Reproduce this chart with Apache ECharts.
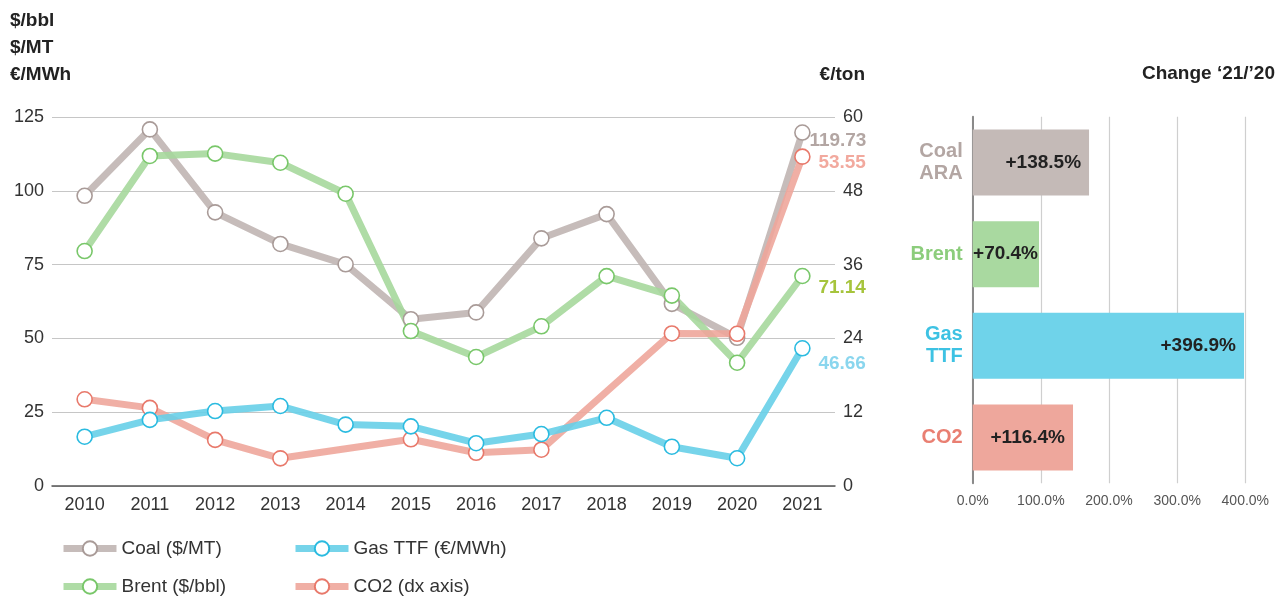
<!DOCTYPE html>
<html><head><meta charset="utf-8">
<script src="https://cdn.jsdelivr.net/npm/echarts@6/dist/echarts.min.js"></script>
<style>html,body{margin:0;padding:0;background:#fff}#c{width:1279px;height:596px}</style>
</head><body><div id="c"></div>
<script>
const years = ['2010','2011','2012','2013','2014','2015','2016','2017','2018','2019','2020','2021'];
const coal = [98.3,120.8,92.7,82.0,75.1,56.5,58.8,83.9,92.1,61.7,50.2,119.73];
const brent = [79.6,111.8,112.6,109.5,99.0,52.5,43.7,54.1,71.1,64.5,41.75,71.14];
const gasTTF = [16.7,22.4,25.4,27.1,20.8,20.2,14.5,17.6,23.1,13.3,9.4,46.66];
const co2 = [14.1,12.7,7.5,4.5,null,7.6,5.4,5.9,null,24.8,24.75,53.55];
const leftTicks = {min:0, max:125, interval:25};
const rightTicks = {min:0, max:60, interval:12};
const barCats = ['Coal ARA','Brent','Gas TTF','CO2'];
const barLengths = [170.7, 97.3, 398.1, 147.2];
const barLabels = ['+138.5%','+70.4%','+396.9%','+116.4%'];

const FONT = '"Liberation Sans", Arial, sans-serif';
const C = {
  coal:{line:'#c0b5b2', mark:'#a99b98', lab:'#b3a6a3'},
  brent:{line:'#a6d89c', mark:'#79c76a', lab:'#a6c43c'},
  gas:{line:'#67cfe8', mark:'#2bbbe0', lab:'#8ad6ee'},
  co2:{line:'#eea69b', mark:'#e8796b', lab:'#f2a99e'}
};
const catColors = ['#b3a6a3','#8ccd7c','#3dc2e3','#e97f72'];
const barColors = ['#c4bab7','#a9d9a0','#6fd3ea','#eea79c'];

function lineSeries(name, data, col, yIdx, off){
  return {
    name, type:'line', data, xAxisIndex:0, yAxisIndex:yIdx,
    connectNulls:true, symbol:'circle', symbolSize:15,
    itemStyle:{color:'#fff', borderColor:col.mark, borderWidth:1.6},
    lineStyle:{color:col.line, width:7, opacity:0.9},
    emphasis:{disabled:true},
    endLabel:{show:true, distance:0, offset:off, formatter:p=>Number(p.value).toFixed(2),
      color:col.lab, fontFamily:FONT, fontWeight:'bold', fontSize:19},
    z:3
  };
}
const legendBase = {orient:'vertical', top:534, height:80, itemWidth:53, itemHeight:18, itemGap:19,
  textStyle:{fontSize:19, color:'#333', fontFamily:FONT, lineHeight:16},
  lineStyle:{width:7, opacity:0.9}, selectedMode:false};

const chart = echarts.init(document.getElementById('c'), null, {renderer:'canvas'});
chart.setOption({
  animation:false,
  textStyle:{fontFamily:FONT},
  graphic:[
    {type:'text', left:10, top:7, style:{text:'$/bbl\n$/MT\n€/MWh', font:'bold 19px '+FONT, fill:'#222', lineHeight:27}},
    {type:'text', right:1279-865, top:65, style:{text:'€/ton', font:'bold 19px '+FONT, fill:'#222', textAlign:'right'}},
    {type:'text', right:4, top:64, style:{text:'Change ‘21/’20', font:'bold 19px '+FONT, fill:'#222', textAlign:'right'}}
  ],
  legend:[
    Object.assign({}, legendBase, {left:55, data:['Coal ($/MT)','Brent ($/bbl)']}),
    Object.assign({}, legendBase, {left:287, data:['Gas TTF (€/MWh)','CO2 (dx axis)']})
  ],
  grid:[
    {left:52, right:1279-835, top:117, bottom:596-486},
    {left:972.7, right:1279-1245.3, top:116.7, bottom:596-483.3}
  ],
  xAxis:[
    {type:'category', gridIndex:0, data:years, boundaryGap:true,
     axisLine:{lineStyle:{color:'#555', width:1.5}},
     axisTick:{length:5, lineStyle:{color:'#555', width:1.5}},
     axisLabel:{fontSize:18, color:'#333', margin:10, fontFamily:FONT}},
    {type:'value', gridIndex:1, min:0, max:400, interval:100,
     axisLine:{show:false}, axisTick:{show:false},
     splitLine:{lineStyle:{color:'#cfcfcf', width:1.2}},
     axisLabel:{fontSize:14, color:'#555', margin:11, fontFamily:FONT, formatter:v=>v.toFixed(1)+'%'}}
  ],
  yAxis:[
    {type:'value', gridIndex:0, position:'left', ...leftTicks,
     axisLine:{show:false}, axisTick:{show:false},
     splitLine:{lineStyle:{color:'#c6c6c6', width:1.2}},
     axisLabel:{fontSize:18, color:'#333', margin:8, fontFamily:FONT}},
    {type:'value', gridIndex:0, position:'right', ...rightTicks,
     axisLine:{show:false}, axisTick:{show:false}, splitLine:{show:false},
     axisLabel:{fontSize:18, color:'#333', margin:8, fontFamily:FONT}},
    {type:'category', gridIndex:1, data:barCats, inverse:true,
     axisLine:{lineStyle:{color:'#8a8a8a', width:2}},
     axisTick:{length:4, lineStyle:{color:'#8a8a8a', width:1.5}},
     axisLabel:{margin:10, fontFamily:FONT, align:'right',
       formatter:(v,i)=>v.split(' ').map(w=>'{c'+i+'|'+w+'}').join('\n'),
       rich:{
         c0:{color:catColors[0], fontWeight:'bold', fontSize:20, lineHeight:22, fontFamily:FONT, align:'right'},
         c1:{color:catColors[1], fontWeight:'bold', fontSize:20, lineHeight:22, fontFamily:FONT, align:'right'},
         c2:{color:catColors[2], fontWeight:'bold', fontSize:20, lineHeight:22, fontFamily:FONT, align:'right'},
         c3:{color:catColors[3], fontWeight:'bold', fontSize:20, lineHeight:22, fontFamily:FONT, align:'right'}
       }}}
  ],
  series:[
    lineSeries('Coal ($/MT)', coal, C.coal, 0, [7,8]),
    lineSeries('Brent ($/bbl)', brent, C.brent, 0, [16,12]),
    lineSeries('CO2 (dx axis)', co2, C.co2, 1, [16,6]),
    lineSeries('Gas TTF (€/MWh)', gasTTF, C.gas, 0, [16,16]),
    {type:'bar', xAxisIndex:1, yAxisIndex:2, barCategoryGap:'28%',
     data:barLengths.map((v,i)=>({value:v, itemStyle:{color:barColors[i]},
        label: i===1 ? {distance:1} : undefined})),
     label:{show:true, position:'insideRight', distance:8, color:'#222',
       fontWeight:'bold', fontSize:19, fontFamily:FONT,
       formatter:p=>barLabels[p.dataIndex]},
     emphasis:{disabled:true}}
  ]
});
</script></body></html>
